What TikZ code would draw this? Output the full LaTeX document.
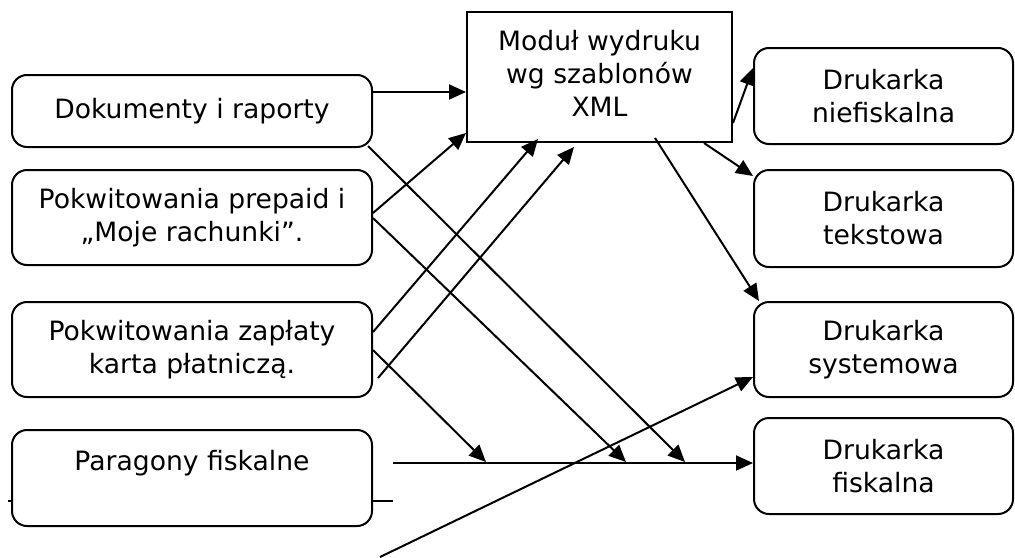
\documentclass[tikz,border=0pt]{standalone}
\usepackage{fontspec}
\setmainfont{DejaVu Sans}
\usetikzlibrary{arrows.meta}
\begin{document}
\begin{tikzpicture}[x=0.5pt,y=-0.5pt,
  every node/.style={font=\fontsize{13.3}{16.5}\selectfont, align=center, inner sep=0pt},
  rbox/.style={draw, line width=1pt, rounded corners=7.5pt, fill=white},
  lbox/.style={rbox, minimum width=180pt},
  prbox/.style={rbox, minimum width=129.5pt},
  mbox/.style={draw, line width=1pt, fill=white, minimum width=132.5pt, minimum height=65pt},
  conn/.style={line width=1pt},
  arr/.style={conn, -{Triangle[length=8.5pt,width=7.5pt]}}]
\useasboundingbox (0,0) rectangle (1015,557);
% left boxes
\node[lbox, minimum height=36pt] (dok) at (192,111) {Dokumenty i raporty};
\node[lbox, minimum height=47.5pt] (pre) at (192,217.5) {Pokwitowania prepaid i\\„Moje rachunki”.};
\node[lbox, minimum height=47.5pt] (zap) at (192,349.5) {Pokwitowania zapłaty\\karta płatniczą.};
% line behind paragony box
\coordinate (pl) at (8,501);
\coordinate (pr) at (393,501);
\draw[conn] (pl) -- (pr);
\node[lbox, minimum height=48pt] (par) at (192,478) {};
\node (part) at (192,463) {Paragony fiskalne};
% module
\node[mbox] (mod) at (599.5,77) {};
\node (modt) at (599.5,73.5) {Moduł wydruku\\wg szablonów\\XML};
% right boxes
\node[prbox, minimum height=48pt] (nie) at (883.5,96) {Drukarka\\niefiskalna};
\node[prbox, minimum height=48.5pt] (tek) at (883.5,218.5) {Drukarka\\tekstowa};
\node[prbox, minimum height=47.5pt] (sys) at (883.5,349.5) {Drukarka\\systemowa};
\node[prbox, minimum height=48pt] (fis) at (883.5,466) {Drukarka\\fiskalna};
\coordinate (bot) at (380,557);
% connectors
\draw[arr] ([yshift=9.5pt]dok.east) -- ([yshift=-7.5pt]mod.west);
\draw[arr] ([yshift=2.25pt]pre.east) -- ([yshift=5pt]mod.south west);
\draw[arr] ([xshift=-2.5pt,yshift=1pt]dok.south east) -- ([xshift=-34pt,yshift=2pt]fis.west);
\draw[arr] ([yshift=-0.25pt]pre.east) -- ([xshift=-63.5pt,yshift=2pt]fis.west);
\draw[arr] ([yshift=8.75pt]zap.east) -- ([xshift=-30.75pt,yshift=2pt]mod.south);
\draw[arr] ([xshift=2.5pt,yshift=-14.25pt]zap.east) -- ([xshift=-12.75pt,yshift=-2pt]mod.south);
\draw[arr] ([yshift=-0.25pt]zap.east) -- ([xshift=-133.5pt,yshift=2pt]fis.west);
\draw[arr] ([xshift=10pt,yshift=7.5pt]par.east) -- ([yshift=1.5pt]fis.west);
\draw[arr] (bot) -- ([yshift=-13.75pt]sys.west);
\draw[arr] ([xshift=27.75pt,yshift=2.5pt]mod.south) -- ([xshift=3pt]sys.north west);
\draw[arr] ([xshift=-14.5pt]mod.south east) -- ([yshift=-3.5pt]tek.north west);
\draw[arr] ([yshift=-23pt]mod.east) -- ([yshift=14pt]nie.west);
\end{tikzpicture}
\end{document}
